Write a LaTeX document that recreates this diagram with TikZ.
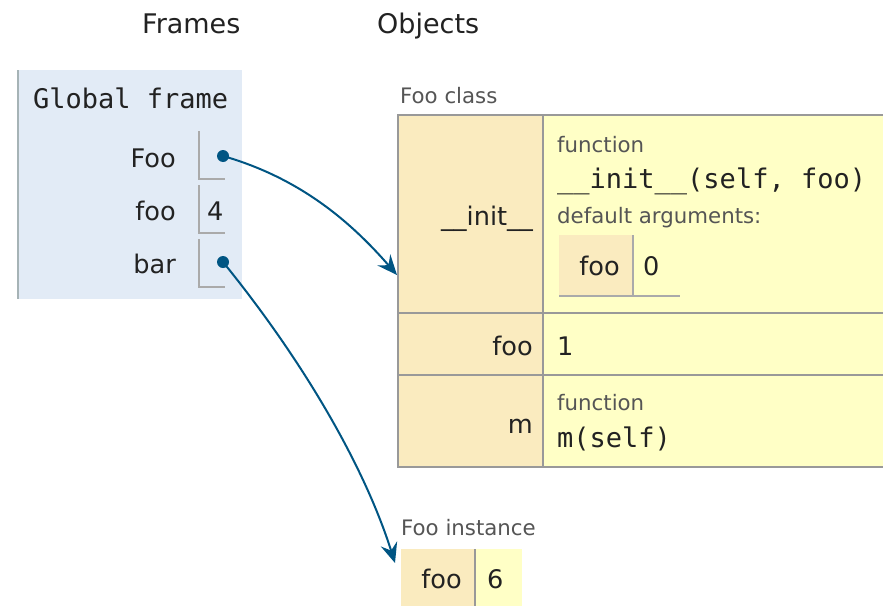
\documentclass[tikz,border=0pt]{standalone}
\usepackage{fontspec}
\setmainfont{DejaVu Sans}
\setmonofont{DejaVu Sans Mono}
\usetikzlibrary{arrows.meta,positioning}

\definecolor{framebg}{HTML}{E2EBF6}
\definecolor{frameedge}{HTML}{A6B3B6}
\definecolor{keybg}{HTML}{FAEBBF}
\definecolor{valbg}{HTML}{FFFFC6}
\definecolor{cellline}{HTML}{999999}
\definecolor{slotline}{HTML}{AAAAAA}
\definecolor{ptrblue}{HTML}{005583}
\definecolor{notegray}{HTML}{555555}
\definecolor{textdark}{HTML}{222222}

\tikzset{
  head/.style={font=\fontsize{27}{32}\selectfont, text=textdark, inner sep=0pt, anchor=base west},
  varname/.style={font=\fontsize{25.6}{30}\selectfont, text=textdark, inner sep=0pt, anchor=base east},
  val/.style={font=\fontsize{25.6}{30}\selectfont, text=textdark, inner sep=0pt, anchor=base west},
  note/.style={font=\fontsize{21.3}{25}\selectfont, text=notegray, inner sep=0pt, anchor=base west},
  code/.style={font=\ttfamily\fontsize{27}{32}\selectfont, text=textdark, inner sep=0pt, anchor=base west},
  cell/.style={rectangle, inner sep=0pt, outer sep=0pt, anchor=north west},
  keycell/.style={cell, fill=keybg, draw=cellline, line width=1.6},
  valcell/.style={cell, fill=valbg, draw=cellline, line width=1.6},
  slot/.style={cell, minimum width=26, minimum height=48},
  dot/.style={circle, fill=ptrblue, inner sep=0pt, minimum size=12},
  ptr/.style={draw=ptrblue, line width=2, -{Stealth[length=20pt,width=17pt,inset=7pt]}}
}

\begin{document}
\begin{tikzpicture}[x=1pt, y=-1pt]

\clip (0,0) rectangle (883,605);

\node[head] (framesHead) at (142,33) {Frames};
\node[head] (objectsHead) at (377,33) {Objects};

% global frame
\node[cell, fill=framebg, minimum width=224, minimum height=229] (globalFrame) at (18,70) {};
\draw[frameedge, line width=1.6] (globalFrame.north west) -- (globalFrame.south west);
\node[code] (gfTitle) at (33,108) {Global frame};

\foreach \v/\y/\t in {Foo/167/131, foo/220/185, bar/273/239} {
  \node[varname] (\v-name) at (176,\y) {\v};
  \node[slot] (\v-slot) at (199,\t) {};
  \draw[slotline, line width=1.4] (\v-slot.north west) |- (\v-slot.south east);
}
\node[val] (fooVal) at (207,220) {4};
\node[dot] (FooDot) at (223,156) {};
\node[dot] (barDot) at (223,262) {};

% class object
\node[note] (clsLabel) at (400,103) {Foo class};
\node[keycell, minimum width=145, minimum height=198] (initKey) at (398,115) {};
\node[valcell, minimum width=350, minimum height=198] (initVal) at (543,115) {};
\node[keycell, minimum width=145, minimum height=62] (fooKey) at (398,313) {};
\node[valcell, minimum width=350, minimum height=62] (fooCls) at (543,313) {};
\node[keycell, minimum width=145, minimum height=92] (mKey) at (398,375) {};
\node[valcell, minimum width=350, minimum height=92] (mVal) at (543,375) {};

\node[varname] (initName) at (533,225) {\_\_init\_\_};
\node[note] (initKind) at (557,152) {function};
\node[code] (initSig) at (557,188) {\_\_init\_\_(self, foo)};
\node[note] (initDefaults) at (557,223) {default arguments:};
\node[cell, fill=keybg, minimum width=73, minimum height=61] (argKey) at (559,235) {};
\node[cell, minimum width=47, minimum height=61] (argVal) at (633,235) {};
\draw[slotline, line width=1.4] (argKey.south west) -- (argKey.south east);
\draw[slotline, line width=1.4] (argVal.north west) |- (argVal.south east);
\node[varname] (argName) at (620,275) {foo};
\node[val] (argDefault) at (643,275) {0};

\node[varname] (fooName) at (533,355) {foo};
\node[val] (fooClsVal) at (557,355) {1};

\node[varname] (mName) at (533,433) {m};
\node[note] (mKind) at (557,410) {function};
\node[code] (mSig) at (557,447) {m(self)};

% instance object
\node[note] (instLabel) at (401,535) {Foo instance};
\node[cell, fill=keybg, minimum width=74, minimum height=70] (instKey) at (401,549) {};
\node[cell, fill=valbg, minimum width=47, minimum height=70] (instVal) at (475,549) {};
\draw[cellline, line width=1.6] (instVal.north west) -- (instVal.south west);
\node[varname] (instName) at (462,588) {foo};
\node[val] (instNum) at (487,588) {6};

% references
\coordinate (clsTip) at (397,275);
\coordinate (instTip) at (395,563);
\draw[ptr] (FooDot.center) .. controls +(77,22) and +(-46,-53) .. (clsTip);
\draw[ptr] (barDot.center) .. controls +(82,101) and +(-30,-95) .. (instTip);

\end{tikzpicture}
\end{document}
